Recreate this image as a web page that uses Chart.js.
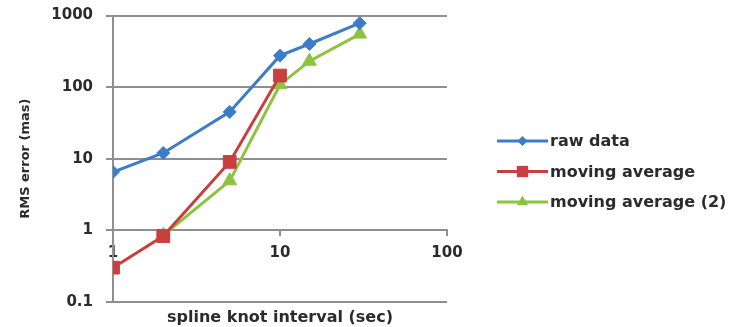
<!DOCTYPE html>
<html>
<head>
<meta charset="utf-8">
<script src="https://cdn.jsdelivr.net/npm/chart.js@4/dist/chart.umd.min.js"></script>
<style>
  html, body { margin: 0; padding: 0; background: #fff; }
  #wrap { width: 731px; height: 327px; }
</style>
</head>
<body>
<div id="wrap"><canvas id="chart"></canvas></div>
<script>
// values
const rawX = [1, 2, 5, 10, 15, 30]
const rawY = [6.5, 12, 45, 275, 400, 780]
const avgX = [1, 2, 5, 10]
const avgY = [0.3, 0.83, 9, 145]
const avg2X = [2, 5, 10, 15, 30]
const avg2Y = [0.85, 4.9, 108, 230, 550]
const xTicks = [1, 10, 100]
const yTicks = [0.1, 1, 10, 100, 1000]
const seriesNames = ["raw data", "moving average", "moving average (2)"]

const colors = ["#3D7CC9", "#C93E3E", "#8CC43F"]
const markers = ["rectRot", "rect", "triangle"]
const markerSizes = [6.5, 9, 8]
const legendMarkerSizes = [5, 8, 6.5]
const gridColor = "#8F8F8F"
const textColor = "#2B2B2B"
const font = (size) => ({ family: "DejaVu Sans", size: size, weight: "bold" })

// legend placement (right of the plot)
const legendLeft = 497
const legendTop = 141
const legendGap = 30.5
const legendLine = 51

const toPoints = (xs, ys) => xs.map((x, i) => ({ x: x, y: ys[i] }))

const makeSet = (i, xs, ys) => ({
  label: seriesNames[i],
  data: toPoints(xs, ys),
  showLine: true,
  borderColor: colors[i],
  backgroundColor: colors[i],
  borderWidth: 3,
  pointStyle: markers[i],
  pointRadius: markerSizes[i],
  pointHoverRadius: markerSizes[i],
  pointBorderWidth: 1,
  tension: 0,
})

// Excel-style legend: a line segment with the marker on it, then the name
const lineLegend = {
  id: "lineLegend",
  afterDraw(chart) {
    const ctx = chart.ctx
    ctx.save()
    ctx.font = "bold 16px 'DejaVu Sans'"
    ctx.textBaseline = "middle"
    ctx.textAlign = "left"
    chart.data.datasets.forEach((ds, i) => {
      const y = legendTop + i * legendGap
      ctx.strokeStyle = ds.borderColor
      ctx.fillStyle = ds.borderColor
      ctx.lineWidth = 3
      ctx.beginPath()
      ctx.moveTo(legendLeft, y)
      ctx.lineTo(legendLeft + legendLine, y)
      ctx.stroke()
      Chart.helpers.drawPoint(
        ctx,
        { pointStyle: ds.pointStyle, radius: legendMarkerSizes[i], borderWidth: 0, rotation: 0 },
        legendLeft + legendLine / 2,
        y
      )
      ctx.fillStyle = textColor
      ctx.fillText(ds.label, legendLeft + legendLine + 2, y + 1)
    })
    ctx.restore()
  },
}

new Chart(document.getElementById("chart"), {
  type: "scatter",
  data: {
    datasets: [
      makeSet(0, rawX, rawY),
      makeSet(1, avgX, avgY),
      makeSet(2, avg2X, avg2Y),
    ],
  },
  options: {
    responsive: true,
    maintainAspectRatio: false,
    animation: false,
    layout: { padding: { top: 15.5, right: 284, bottom: 0, left: 0 } },
    scales: {
      x: {
        type: "logarithmic",
        position: { y: 1 },
        min: 1,
        max: 100,
        afterBuildTicks: (scale) => {
          scale.ticks = xTicks.map((v) => ({ value: v }))
        },
        ticks: {
          callback: (v) => String(v),
          color: textColor,
          font: font(15),
          padding: 9,
          maxRotation: 0,
        },
        grid: { drawOnChartArea: false, color: gridColor, lineWidth: 2, tickLength: 5 },
        border: { color: gridColor, width: 2 },
      },
      y: {
        type: "logarithmic",
        min: 0.1,
        max: 1000,
        afterBuildTicks: (scale) => {
          scale.ticks = yTicks.map((v) => ({ value: v }))
        },
        afterFit: (scale) => {
          scale.width = 113
          scale.paddingTop = 0
          scale.paddingBottom = 0
        },
        ticks: {
          callback: (v) => String(v),
          color: textColor,
          font: font(15),
          padding: 13,
        },
        grid: { color: gridColor, lineWidth: 2, tickLength: 7 },
        border: { color: gridColor, width: 2 },
        title: {
          display: true,
          text: "RMS error (mas)",
          color: textColor,
          font: font(13),
          padding: { top: 18, bottom: 0 },
        },
      },
    },
    plugins: {
      title: {
        display: true,
        text: "spline knot interval (sec)",
        position: "bottom",
        fullSize: false,
        color: textColor,
        font: font(16),
        padding: { top: 6, bottom: 0 },
      },
      legend: { display: false },
      tooltip: { enabled: false },
    },
  },
  plugins: [lineLegend],
})
</script>
</body>
</html>
